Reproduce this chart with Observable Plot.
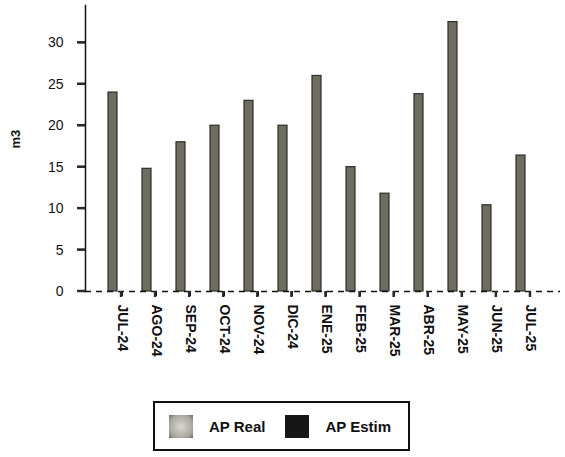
<!DOCTYPE html>
<html>
<head>
<meta charset="utf-8">
<script src="https://cdn.jsdelivr.net/npm/d3@7"></script>
<script src="https://cdn.jsdelivr.net/npm/@observablehq/plot@0.6"></script>
<style>
  html, body { margin: 0; padding: 0; background: #fff; }
  body { width: 565px; height: 457px; overflow: hidden; font-family: "Liberation Sans", Arial, sans-serif; }
  #legend {
    position: absolute; left: 153px; top: 401px; width: 253px; height: 46px;
    border: 2px solid #111; display: flex; align-items: center; box-sizing: content-box;
    font-size: 15px; font-weight: bold; color: #111;
  }
  .sw { width: 24px; height: 23px; display: inline-block; margin-right: 16px; }
  .item { display: flex; align-items: center; }
</style>
</head>
<body>
<div id="chart"></div>
<div id="legend">
  <div class="item" style="margin-left:14px"><span class="sw" style="background: radial-gradient(circle, #d8d8d0 0%, #a8a8a0 70%, #6a6a62 100%);"></span>AP Real</div>
  <div class="item" style="margin-left:20px"><span class="sw" style="background:#161616;"></span>AP Estim</div>
</div>
<script>
const months = ["JUL-24","AGO-24","SEP-24","OCT-24","NOV-24","DIC-24","ENE-25","FEB-25","MAR-25","ABR-25","MAY-25","JUN-25","JUL-25"];
const apReal = [24, 14.8, 18, 20, 23, 20, 26, 15, 11.8, 23.8, 32.5, 10.4, 16.4];
const yTicks = [0, 5, 10, 15, 20, 25, 30];

const data = months.map((m, i) => ({month: m, value: apReal[i], series: "AP Real"}));

const chart = Plot.plot({
  width: 565,
  height: 395,
  marginLeft: 85,
  marginRight: 5,
  marginTop: 5,
  marginBottom: 104,
  style: {fontFamily: "Liberation Sans, Arial, sans-serif", fontSize: "14px", color: "#111", background: "white"},
  x: {domain: months, range: [104, 547], padding: 0, tickSize: 5, tickPadding: 8, tickRotate: 90, label: null},
  y: {domain: [0, 34.5], ticks: yTicks, tickSize: 7, tickPadding: 15, label: null},
  marks: [
    Plot.frame({anchor: "left", stroke: "#111", strokeWidth: 1.5}),
    Plot.barY(data, {x: "month", y: "value", fill: "#6f6d60", stroke: "#2e2d28", strokeWidth: 1.2, insetLeft: 3, insetRight: 22}),
    Plot.ruleY([0], {stroke: "#111", strokeWidth: 1.6, strokeDasharray: "6,5"}),
    Plot.text(["m3"], {frameAnchor: "left", dx: -70, rotate: -90, fontWeight: "bold", fontSize: 13, fill: "#111"})
  ]
});
document.getElementById("chart").appendChild(chart);
chart.querySelectorAll('g[aria-label="x-axis tick label"] text').forEach(t => t.style.fontWeight = "bold");

// tick marks, positioned from the chart's own scale descriptors
const yd = chart.scale("y"), xd = chart.scale("x");
const ys = d3.scaleLinear(yd.domain, yd.range);
const xs = d3.scaleBand(xd.domain, xd.range).padding(0);
const NS = "http://www.w3.org/2000/svg";
function addLine(x1, y1, x2, y2) {
  const l = document.createElementNS(NS, "line");
  l.setAttribute("x1", x1); l.setAttribute("y1", y1);
  l.setAttribute("x2", x2); l.setAttribute("y2", y2);
  l.setAttribute("stroke", "#2a2a2a"); l.setAttribute("stroke-width", "2.5");
  chart.appendChild(l);
}
yTicks.forEach(t => addLine(77, ys(t), 85, ys(t)));
months.forEach(m => { const xx = xs(m) + xs.bandwidth() / 2; addLine(xx, ys(0), xx, ys(0) + 6); });
</script>
</body>
</html>
